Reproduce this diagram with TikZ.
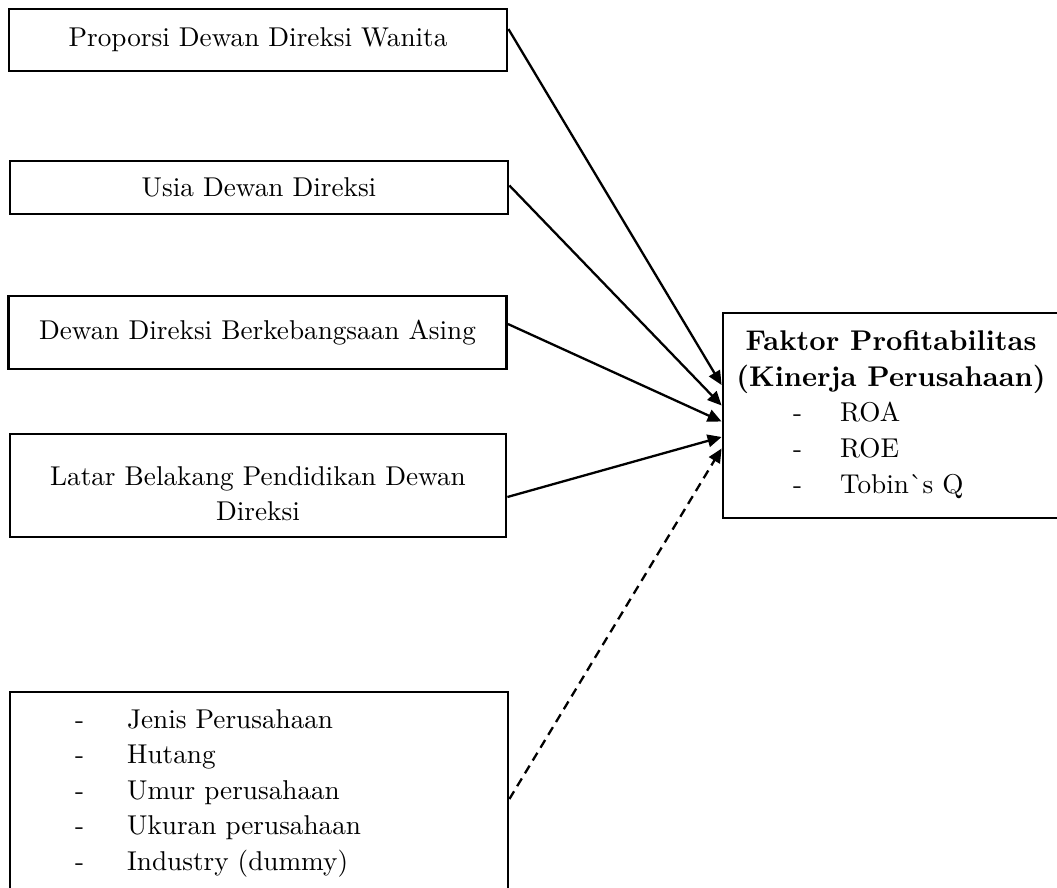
\documentclass[tikz,border=0pt]{standalone}
\usepackage{fontspec}
\setmainfont{lmroman10}[Extension=.otf, UprightFont=*-regular, BoldFont=*-bold,
  ItalicFont=*-italic, BoldItalicFont=*-bolditalic]
\usetikzlibrary{arrows.meta,positioning}

\begin{document}
\begin{tikzpicture}[
    x=1pt, y=-1pt,
    font=\fontsize{27.2}{35.5}\selectfont,
    box/.style={draw, line width=2.8pt, inner sep=0pt, align=center,
                minimum width=498pt},
    txt/.style={inner sep=0pt, align=left},
    arr/.style={-{Triangle[length=14pt,width=12.5pt]}, line width=2.3pt},
    dasharr/.style={arr, dash pattern=on 9pt off 6pt}
  ]
  \useasboundingbox (0,0) rectangle (1057,888);

  % independent variables
  \node[box, minimum height=62pt] (prop) at (258,40) {Proporsi Dewan Direksi Wanita};
  \node[box, minimum height=53pt] (usia) at (259,187.5) {Usia Dewan Direksi};
  \node[box, minimum height=73pt] (asing) at (257.5,332.5) {Dewan Direksi Berkebangsaan Asing};
  \node[box, minimum height=103pt, minimum width=496pt] (latar) at (258,485.5) {};
  \node[txt, align=center] (latartxt) at ([yshift=-8pt]latar.center)
       {Latar Belakang Pendidikan Dewan\\Direksi};

  % control variables
  \node[box, minimum height=203pt] (ctrl) at (259,793.5) {};
  \node[txt, anchor=west] (ctrltxt) at (75,793)
       {\makebox[52pt][l]{-}Jenis Perusahaan\\
        \makebox[52pt][l]{-}Hutang\\
        \makebox[52pt][l]{-}Umur perusahaan\\
        \makebox[52pt][l]{-}Ukuran perusahaan\\
        \makebox[52pt][l]{-}Industry (dummy)};

  % dependent variable
  \node[box, minimum height=205pt, minimum width=337pt] (fp) at (891.5,415.5) {};
  \node[txt, align=center, font=\fontsize{28.5}{36}\selectfont\bfseries] (fphead) at (891,362)
       {Faktor Profitabilitas\\(Kinerja Perusahaan)};
  \node[txt, anchor=west, font=\fontsize{27.2}{36}\selectfont] (fplist) at (793,450)
       {\makebox[47pt][l]{-}ROA\\
        \makebox[47pt][l]{-}ROE\\
        \makebox[47pt][l]{-}Tobin\textasciigrave s Q};

  \draw[arr] ([yshift=11pt]prop.east) -- ([yshift=30.5pt]fp.west);
  \draw[arr] ([yshift=2pt]usia.east) -- ([yshift=10pt]fp.west);
  \draw[arr] ([yshift=8.5pt]asing.east) -- ([yshift=-6pt]fp.west);
  \draw[arr] ([yshift=-11.5pt]latar.east) -- ([yshift=-21.5pt]fp.west);
  \draw[dasharr] ([yshift=-5.5pt]ctrl.east) -- ([yshift=-33pt]fp.west);
\end{tikzpicture}
\end{document}
